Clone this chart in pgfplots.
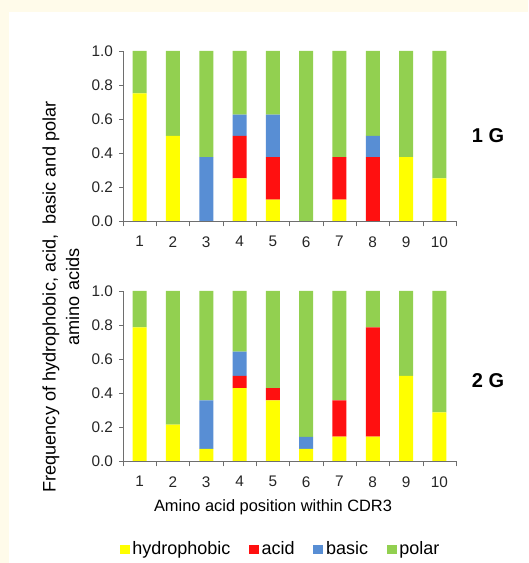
\documentclass[border=0pt]{standalone}
\usepackage{pgfplots}
\usepackage{pgfplotstable}
\usepackage{fontspec}
\setmainfont{Liberation Sans}
\pgfplotsset{compat=1.18}
\definecolor{cY}{RGB}{255,255,0}
\definecolor{cA}{RGB}{255,16,16}
\definecolor{cB}{RGB}{88,142,212}
\definecolor{cP}{RGB}{146,208,80}
\definecolor{axc}{RGB}{110,110,110}
\definecolor{cream}{RGB}{255,251,234}

\pgfplotstableread{
x Y A B P
1 0.75 0 0 0.25
2 0.5 0 0 0.5
3 0 0 0.375 0.625
4 0.25 0.25 0.125 0.375
5 0.125 0.25 0.25 0.375
6 0 0 0 1
7 0.125 0.25 0 0.625
8 0 0.375 0.125 0.5
9 0.375 0 0 0.625
10 0.25 0 0 0.75
}\topdata

\pgfplotstableread{
x Y A B P
1 0.786 0 0 0.214
2 0.214 0 0 0.786
3 0.071 0 0.286 0.643
4 0.429 0.071 0.143 0.357
5 0.357 0.071 0 0.572
6 0.071 0 0.071 0.858
7 0.143 0.214 0 0.643
8 0.143 0.643 0 0.214
9 0.5 0 0 0.5
10 0.286 0 0 0.714
}\botdata

\pgfplotsset{
  panel/.style={
    scale only axis, width=249.75pt, height=127.5pt,
    anchor=origin,
    ybar stacked, bar width=10.5pt,
    xmin=0.5, xmax=10.5, ymin=0, ymax=1,
    axis x line*=bottom, axis y line*=left,
    axis line style={axc,-},
    xtick={1,...,10},
    minor xtick={0.5,1.5,...,10.5},
    major x tick style={draw=none},
    minor x tick style={axc},
    ytick={0,0.2,...,1.0},
    y tick style={axc},
    tick align=outside,
    major tick length=3pt, minor tick length=4pt,
    yticklabel style={/pgf/number format/fixed,/pgf/number format/fixed zerofill,/pgf/number format/precision=1, xshift=-1pt},
    /pgf/number format/assume math mode=true,
    tick label style={font=\fontsize{11.5}{13}\selectfont, text=black!85},
    xticklabel style={yshift=-5pt},
    every axis plot/.append style={draw=none},
    clip=false,
  }
}

\begin{document}
\begin{tikzpicture}[x=0.75pt,y=0.75pt]
\path[use as bounding box, fill=cream] (0,0) rectangle (528,563);
\fill[white] (9,0) rectangle (528,551);

\begin{axis}[panel, at={(92.25pt,256.5pt)}]
\addplot[fill=cY] table[x=x,y=Y]{\topdata};
\addplot[fill=cA] table[x=x,y=A]{\topdata};
\addplot[fill=cB] table[x=x,y=B]{\topdata};
\addplot[fill=cP] table[x=x,y=P]{\topdata};
\end{axis}

\begin{axis}[panel, at={(92.25pt,76.5pt)},
  legend columns=4,
  legend style={at={(0.474,-0.52)}, anchor=center, draw=none, fill=none,
    font=\fontsize{13.5}{15}\selectfont,
    /tikz/every even column/.append style={column sep=12pt},
    /tikz/every odd column/.append style={column sep=0pt}},
  legend image code/.code={\fill[#1] (0pt,-3.2pt) rectangle (7.5pt,3.6pt);},
]
\addplot[fill=cY] table[x=x,y=Y]{\botdata};
\addplot[fill=cA] table[x=x,y=A]{\botdata};
\addplot[fill=cB] table[x=x,y=B]{\botdata};
\addplot[fill=cP] table[x=x,y=P]{\botdata};
\legend{hydrophobic,acid,basic,polar}
\end{axis}

\node[font=\fontsize{15}{17}\selectfont\bfseries] at (488,427) {1 G};
\node[font=\fontsize{15}{17}\selectfont\bfseries] at (488,182) {2 G};
\node[font=\fontsize{12.3}{17}\selectfont] at (273,56) {Amino acid position within CDR3};
\node[font=\fontsize{13.6}{17.6}\selectfont, rotate=90, align=center] at (61,266)
  {Frequency of hydrophobic, acid,\ \ basic and polar\\amino acids};
\end{tikzpicture}
\end{document}
